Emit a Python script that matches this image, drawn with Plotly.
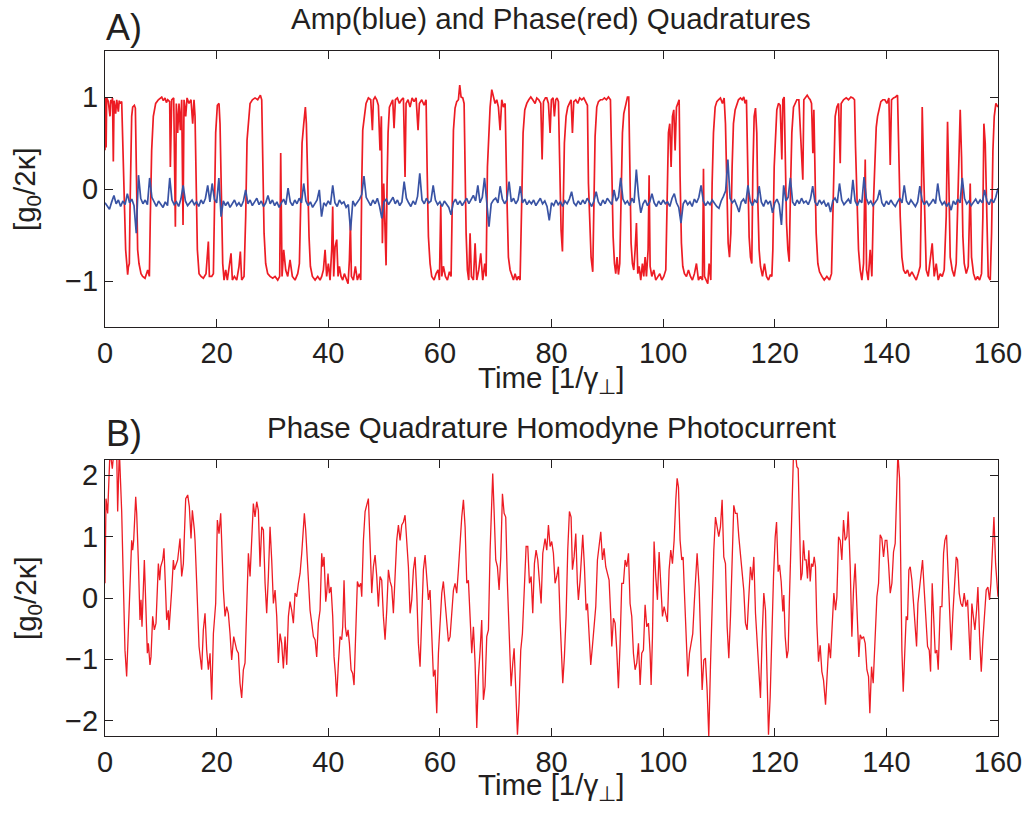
import plotly.graph_objects as go

# ---------------- Panel A: phase quadrature (red), (time, value) ----------------
phase_a1 = [(0.00,0.42),(0.12,1.00),(0.20,0.45),(0.30,0.99),(0.60,0.95),(0.90,0.79),(1.05,0.97),(1.19,0.93),(1.35,0.99),(1.49,0.30),(1.62,0.96),(1.91,0.82),(2.10,0.97),(2.39,0.84),(2.55,0.96),(2.69,0.93),(2.99,0.95),(3.29,0.40),(3.46,-0.12),(3.70,-0.66),(3.88,-0.81),(4.06,-0.93),(4.18,-0.85),(4.36,-0.81),(4.48,-0.23),(4.78,0.79),(4.96,0.89),(5.26,0.91),(5.44,0.88),(5.56,0.42),(5.73,-0.23),(5.85,-0.66),(6.09,-0.81),(6.45,-0.92),(6.75,-0.95),(7.17,-0.97),(7.65,-0.88),(7.95,-0.95),(8.12,-0.30),(8.36,0.42),(8.66,0.79),(9.08,0.93),(9.56,0.97),(10.16,1.00),(10.45,0.96),(10.75,0.99),(11.00,0.94),(11.23,0.97),(11.59,0.95),(11.71,0.24),(11.95,0.97),(12.31,0.99),(12.61,-0.41),(12.78,0.93),(13.02,0.61),(13.26,0.93),(13.50,0.64),(13.74,0.97),(13.98,-0.39),(14.16,0.97),(14.46,0.79),(14.70,0.99),(15.05,0.93),(15.41,0.97),(15.71,0.71),(15.95,0.97),(16.13,0.79),(16.31,0.06),(16.55,-0.66),(16.85,-0.92),(17.21,-0.95),(17.62,-0.97),(18.10,-0.92),(18.52,-0.57),(18.70,-0.95),(19.12,-0.95),(19.42,-0.92),(19.59,-0.30),(19.83,0.61),(20.13,0.91),(20.43,0.93),(20.61,0.71),(20.85,0.06),(21.09,-0.81),(21.33,-0.99),(21.63,-0.88),(21.92,-0.99),(22.22,-0.84),(22.58,-0.70),(22.82,-0.99),(23.18,-0.95),(23.60,-0.99),(24.01,-0.84),(24.25,-0.68),(24.49,-0.99),(24.91,-0.95),(25.21,-0.30),(25.45,0.53),(25.69,0.71),(25.99,0.93),(26.41,0.97),(26.88,0.99),(27.36,0.97),(27.84,1.02),(28.08,0.97),(28.26,0.42),(28.50,-0.48),(28.79,-0.81),(29.15,-0.92),(29.57,-0.95),(30.05,-0.97),(30.47,-0.95),(30.95,-0.99),(31.30,-0.95),(31.48,0.39),(31.72,-0.95),(32.02,-0.66),(32.38,-0.88),(32.74,-0.95),(33.15,-0.77),(33.57,-0.95),(34.05,-0.99),(34.53,-0.92),(34.83,-0.81),(35.07,-0.12),(35.31,0.50),(35.61,0.71),(35.90,0.89),(36.08,0.71),(36.32,0.06),(36.56,-0.52),(36.80,-0.84),(37.16,-0.95),(37.64,-0.99),(38.11,-0.95),(38.53,-0.99)]
phase_a2 = [(38.83,-0.95),(39.13,-0.88),(39.43,-0.66),(39.72,-0.95),(40.02,-0.81),(40.32,-0.99),(40.62,-0.66),(40.80,-0.19),(40.98,-0.95),(41.22,-0.63),(41.52,-0.55),(41.76,-0.95),(42.00,-0.84),(42.29,-0.95),(42.59,-0.99),(42.89,-0.92),(43.19,-0.97),(43.55,-1.03),(43.79,-0.77),(43.97,-0.37),(44.15,-0.95),(44.50,-0.99),(44.86,-0.84),(45.22,-0.99),(45.58,-0.92),(45.82,-0.99),(46.00,0.06),(46.18,0.64),(46.48,0.79),(46.77,0.93),(47.19,0.99),(47.61,0.97),(47.91,0.64),(48.09,0.97),(48.39,1.00),(48.69,0.97),(48.98,0.91),(49.28,0.42),(49.52,0.79),(49.70,-0.59),(49.94,0.06),(50.18,-0.52),(50.36,-0.83),(50.54,0.06),(50.72,0.61),(50.96,0.89),(51.25,0.93),(51.55,0.97),(51.79,0.66),(52.03,0.97),(52.39,0.99),(52.75,0.93),(53.11,0.97),(53.47,0.99),(53.76,0.13),(53.94,0.93),(54.30,0.97),(54.66,0.89),(55.02,0.99),(55.38,0.95),(55.74,0.99),(56.09,0.64),(56.33,0.93),(56.75,0.97),(57.17,0.91),(57.53,0.97),(57.71,0.24),(57.95,-0.52),(58.24,-0.81),(58.54,-0.95),(58.96,-0.99),(59.32,-0.92),(59.68,-0.88),(59.92,-0.99),(60.16,-0.17),(60.34,-0.95),(60.63,-0.84),(60.99,-0.95),(61.35,-0.99),(61.71,-0.90),(62.01,-0.95),(62.19,-0.12),(62.43,0.64),(62.72,0.88),(63.02,0.95),(63.32,0.97),(63.56,1.13),(63.80,1.00),(64.10,0.99),(64.34,0.93),(64.52,0.06),(64.70,-0.48),(64.93,-0.88),(65.17,-0.99),(65.41,-0.48),(65.65,-0.95),(66.01,-0.99),(66.31,-0.59),(66.61,-0.99),(66.97,-0.88),(67.32,-0.70),(67.68,-0.99),(68.04,-0.81),(68.28,-0.95),(68.52,0.24),(68.76,0.61),(69.00,0.89),(69.30,1.08),(69.60,1.00),(69.89,0.93),(70.19,0.97),(70.49,0.89),(70.79,0.64),(71.09,0.97),(71.39,0.89),(71.69,0.93),(71.98,-0.01),(72.28,-0.74),(72.58,-0.88),(72.88,-0.95),(73.18,-0.99),(73.48,-0.92),(73.78,-0.99),(74.07,-0.95),(74.37,-0.99),(74.67,-0.12),(74.91,0.61),(75.21,0.86),(75.57,0.93),(75.93,0.97),(76.29,1.00),(76.64,0.97),(77.06,0.93),(77.36,0.99),(77.72,0.97),(78.08,0.93),(78.32,0.32),(78.56,0.95),(78.91,0.99)]
phase_a3 = [(79.15,0.99),(79.45,0.93),(79.75,0.61),(79.98,0.97),(80.28,0.99),(80.52,0.79),(80.76,0.97),(81.00,0.99),(81.24,0.95),(81.48,0.06),(81.72,-0.45),(81.96,-0.68),(82.14,-0.12),(82.31,0.50),(82.61,0.79),(82.91,0.89),(83.21,0.93),(83.51,0.97),(83.75,0.61),(83.99,0.95),(84.35,0.97),(84.70,0.93),(85.06,0.99),(85.42,0.97),(85.78,0.99),(86.14,0.95),(86.44,0.91),(86.62,0.06),(86.86,-0.48),(87.09,-0.74),(87.39,-0.90),(87.63,-0.12),(87.81,0.57),(88.11,0.89),(88.41,0.95),(88.77,0.97),(89.13,0.97),(89.48,0.99),(89.84,0.97),(90.20,1.00),(90.56,0.97),(90.80,0.24),(91.04,-0.52),(91.28,-0.81),(91.51,-0.92),(91.75,-0.74),(91.99,-0.93),(92.23,-0.81),(92.47,-0.01),(92.71,0.61),(92.95,0.82),(93.31,0.93),(93.61,1.00),(93.84,1.00),(94.02,0.24),(94.26,-0.59),(94.50,-0.81),(94.74,-0.88),(94.98,-0.66),(95.22,-0.37),(95.46,-0.92),(95.70,-0.84),(95.99,-0.99),(96.29,-0.81),(96.53,-0.95),(96.77,-0.74),(97.01,-0.95),(97.31,-0.66),(97.49,0.15),(97.67,-0.84),(97.97,-0.95),(98.33,-0.88),(98.68,-0.99),(99.04,-0.95),(99.40,-0.92),(99.76,-0.99),(100.12,-0.95),(100.48,-0.88),(100.71,-0.12),(100.95,0.61),(101.19,0.71),(101.43,0.24),(101.67,0.79),(101.91,0.86),(102.15,0.42),(102.39,0.89),(102.63,0.93),(102.87,0.97),(103.04,0.13),(103.28,-0.59),(103.52,-0.84),(103.82,-0.92),(104.18,-0.95),(104.54,-0.88),(104.90,-0.95),(105.25,-0.99),(105.61,-0.92),(105.97,-0.81),(106.33,-0.99),(106.69,-0.95),(107.05,-0.99),(107.23,0.22),(107.41,-0.95),(107.76,-0.99),(108.00,-1.03),(108.24,-0.81),(108.54,-0.99),(108.78,0.06),(109.02,0.61),(109.32,0.89),(109.62,0.95),(109.92,0.97),(110.27,0.99),(110.63,0.93),(110.93,0.99),(111.17,0.71),(111.41,-0.12),(111.65,-0.59),(111.89,-0.74),(112.13,-0.48),(112.36,0.24),(112.60,0.71),(112.90,0.86),(113.20,0.93),(113.50,0.97),(113.86,0.99),(114.16,0.97),(114.45,1.00),(114.69,0.93),(114.93,0.97),(115.17,0.06),(115.41,-0.52),(115.65,-0.74),(115.89,-0.81),(116.07,0.17),(116.31,0.79),(116.55,0.88),(116.78,0.61),(116.96,-0.12),(117.20,-0.66),(117.44,-0.84),(117.80,-0.95),(118.16,-0.81),(118.52,-0.95),(118.88,-0.99),(119.23,-0.93)]
phase_a4 = [(119.48,-0.95),(119.66,-0.66),(119.90,0.24),(120.14,0.61),(120.37,0.86),(120.67,0.93),(120.97,0.91),(121.27,0.32),(121.45,0.97),(121.69,1.00),(121.87,0.24),(122.11,-0.37),(122.35,-0.66),(122.59,-0.79),(122.82,-0.01),(123.06,0.61),(123.36,0.89),(123.66,0.93),(123.96,0.97),(124.32,0.97),(124.68,0.57),(125.03,0.10),(125.21,0.97),(125.51,1.00),(125.81,1.02),(126.11,0.99),(126.35,0.97),(126.59,0.93),(126.83,0.39),(127.01,0.86),(127.19,0.06),(127.42,-0.48),(127.72,-0.81),(128.02,-0.90),(128.44,-0.95),(128.86,-0.99),(129.34,-0.95),(129.81,-0.99),(130.17,-0.92),(130.41,-0.30),(130.59,0.42),(130.83,0.79),(131.13,0.89),(131.43,0.93),(131.73,0.28),(131.90,0.93),(132.32,0.97),(132.80,0.99),(133.22,0.97),(133.64,1.00),(134.00,0.99),(134.29,0.97),(134.47,0.46),(134.71,-0.12),(135.01,-0.66),(135.31,-0.88),(135.61,-0.99),(135.91,-0.81),(136.21,0.32),(136.45,-0.88),(136.74,-0.99),(137.10,-0.66),(137.40,-0.95),(137.70,-0.12),(137.94,0.42),(138.18,0.67),(138.42,0.79),(138.71,0.89),(139.01,0.95),(139.37,0.97),(139.73,0.97),(140.09,0.93),(140.45,0.99),(140.69,0.26),(140.92,0.97),(141.28,0.99),(141.64,1.00),(142.00,1.02),(142.24,0.24),(142.48,-0.30),(142.78,-0.74),(143.08,-0.88),(143.43,-0.92),(143.79,-0.88),(144.15,-0.95),(144.57,-0.90),(144.99,-0.95),(145.35,-0.99),(145.70,-0.92),(146.06,-0.84),(146.30,0.06),(146.42,0.89),(146.66,0.24),(146.90,-0.52),(147.14,-0.88),(147.50,-0.95),(147.86,-0.74),(148.21,-0.59),(148.57,-0.95),(148.93,-0.81),(149.29,-0.99),(149.65,-0.92),(150.01,-0.95),(150.36,-0.88),(150.72,-0.30),(150.96,0.73),(151.20,0.06),(151.44,-0.74),(151.80,-0.88),(152.16,-0.95),(152.51,-0.81),(152.75,-0.30),(152.99,0.24),(153.23,0.86),(153.47,0.35),(153.71,-0.52),(153.95,-0.81),(154.31,-0.92),(154.67,-0.84),(155.02,0.06),(155.26,-0.74),(155.62,-0.92),(155.98,-0.99),(156.34,-0.95),(156.70,-0.99),(157.05,-0.92),(157.29,-0.30),(157.47,0.71),(157.71,0.50),(158.01,-0.48),(158.25,-0.95),(158.61,-0.99),(158.85,-0.48),(159.09,0.42),(159.33,0.79),(159.62,0.93),(160.00,0.89)]

# ---------------- Panel A: amplitude quadrature (blue), sampled every 0.4 ----------------
amp_step = 0.4
amp_values = [
    -0.15,-0.18,-0.22,-0.14,-0.07,-0.16,-0.12,-0.19,-0.13,-0.17,-0.05,-0.15,-0.11,-0.18,-0.48,0.15,-0.10,-0.16,-0.12,-0.17,
    0.12,-0.09,-0.15,-0.19,-0.13,-0.17,-0.20,-0.14,-0.18,0.12,-0.12,-0.17,-0.14,-0.19,-0.11,0.04,-0.13,-0.18,-0.15,-0.12,
    -0.17,-0.14,-0.19,-0.12,-0.16,-0.10,0.04,-0.14,0.06,-0.11,-0.15,0.12,-0.30,-0.13,-0.18,-0.14,-0.20,-0.16,-0.12,-0.18,
    -0.15,-0.19,-0.13,-0.01,-0.16,-0.12,-0.18,-0.14,-0.10,-0.17,-0.13,-0.19,-0.15,-0.07,-0.16,-0.12,-0.18,-0.14,-0.20,-0.15,
    -0.11,-0.17,0.01,-0.14,-0.18,-0.12,-0.16,-0.10,-0.15,0.06,-0.13,-0.18,-0.14,-0.20,-0.16,-0.12,-0.01,-0.30,-0.15,-0.18,
    -0.13,-0.17,0.04,-0.15,-0.19,-0.12,-0.16,-0.14,-0.20,-0.17,-0.45,-0.13,-0.18,-0.15,-0.11,-0.06,0.14,-0.09,-0.14,-0.18,
    -0.12,-0.16,-0.10,-0.19,-0.32,-0.14,-0.11,-0.17,-0.13,-0.09,-0.16,-0.12,-0.18,-0.14,0.08,-0.10,-0.15,-0.19,-0.13,-0.17,
    -0.08,0.17,-0.12,-0.16,-0.10,-0.15,-0.13,0.04,-0.12,-0.17,-0.14,-0.19,-0.13,-0.16,-0.20,-0.28,-0.15,-0.11,-0.17,-0.13,
    -0.18,-0.14,-0.10,-0.16,-0.12,-0.07,-0.13,0.04,-0.15,-0.09,0.12,-0.18,-0.41,-0.16,-0.12,-0.10,-0.15,0.03,-0.11,-0.16,
    -0.12,0.08,-0.14,-0.10,-0.16,-0.12,0.03,-0.15,-0.11,-0.17,-0.13,-0.16,-0.12,-0.18,-0.14,-0.10,-0.16,-0.13,-0.19,-0.34,
    -0.15,-0.18,-0.12,-0.17,-0.14,-0.19,-0.13,-0.16,-0.11,-0.03,-0.15,-0.18,-0.13,-0.17,-0.12,-0.16,-0.10,-0.15,-0.19,-0.13,
    -0.03,-0.14,-0.18,-0.12,-0.16,-0.10,-0.14,-0.17,-0.01,-0.13,-0.09,0.12,-0.11,-0.16,-0.13,-0.18,-0.10,-0.15,0.21,-0.08,
    -0.26,-0.16,-0.12,-0.18,-0.14,-0.05,-0.15,-0.19,-0.13,-0.17,-0.12,-0.16,-0.14,-0.19,-0.10,-0.05,-0.15,-0.20,-0.37,-0.16,
    -0.12,-0.17,-0.14,-0.19,-0.11,-0.15,-0.09,0.04,-0.13,-0.18,-0.14,-0.17,-0.12,-0.16,-0.19,-0.21,-0.13,-0.08,-0.02,0.32,
    -0.10,-0.15,-0.12,-0.18,-0.25,-0.14,-0.11,-0.16,0.04,-0.13,-0.18,-0.12,-0.15,0.03,-0.14,-0.19,-0.12,-0.16,-0.13,-0.26,
    -0.15,-0.11,-0.17,-0.39,0.04,-0.13,-0.09,0.12,-0.14,-0.18,-0.12,-0.16,-0.10,-0.15,-0.13,-0.17,-0.11,0.03,-0.14,-0.18,
    -0.12,-0.16,-0.13,-0.19,-0.15,-0.25,-0.13,-0.10,-0.15,0.06,-0.12,-0.17,-0.14,-0.11,-0.16,0.10,-0.13,-0.18,-0.12,-0.15,
    0.13,-0.10,-0.16,-0.13,-0.18,-0.14,-0.11,-0.01,-0.15,-0.19,-0.13,-0.17,-0.12,-0.16,-0.19,-0.14,-0.10,-0.15,0.04,-0.13,
    -0.17,-0.12,-0.16,-0.19,-0.14,0.03,-0.12,-0.17,-0.13,-0.18,-0.15,-0.11,-0.16,0.06,-0.12,-0.17,-0.14,-0.19,-0.15,-0.23,
    -0.13,-0.17,-0.11,-0.15,0.12,-0.10,-0.16,-0.13,-0.18,-0.14,-0.11,-0.16,-0.12,-0.15,-0.01,-0.13,-0.17,-0.11,-0.15,-0.09,
    0.01,
]

# ---------------- Panel B: homodyne photocurrent (red), (time, value) ----------------
photo_b1 = [(0.00,0.24),(0.18,1.62),(0.48,1.38),(0.72,2.08),(0.90,2.41),(1.31,2.11),(1.61,2.41),(2.09,2.41),(2.27,1.41),(2.57,2.41),(2.69,2.19),(2.99,1.41),(3.29,0.24),(3.58,-0.85),(3.88,-1.28),(4.18,-0.52),(4.48,0.24),(4.78,0.94),(4.96,0.78),(5.14,0.94),(5.50,1.65),(5.68,1.38),(5.97,0.62),(6.27,-0.36),(6.45,-0.03),(6.63,-0.47),(7.05,0.62),(7.29,-0.09),(7.59,-0.90),(7.77,-0.74),(8.06,-1.09),(8.24,-0.96),(8.54,-0.30),(8.84,-0.52),(9.14,-0.41),(9.56,0.56),(9.80,0.29),(9.98,0.51),(10.34,0.62),(10.57,0.81),(10.87,-0.14),(11.05,-0.36),(11.35,-0.20),(11.47,-0.52),(11.95,0.13),(12.25,0.62),(12.43,0.46),(12.72,0.56),(13.02,0.62),(13.44,0.97),(13.74,0.35),(14.04,0.56),(14.46,1.62),(14.82,1.68),(15.11,1.49),(15.41,0.97),(15.65,1.43),(16.01,1.11),(16.13,0.94),(16.43,0.24),(16.85,-0.79),(17.32,-1.17),(17.62,-0.52),(17.92,-0.25),(18.22,-0.85),(18.52,-1.17),(18.82,-0.90),(19.12,-1.66),(19.42,-0.58),(19.83,-0.09),(20.13,1.27),(20.43,1.05),(20.73,1.38),(21.21,0.13),(21.51,-0.30),(21.80,-0.14),(22.10,-0.25),(22.40,-0.58),(22.70,-1.01),(23.06,-0.63),(23.30,-0.71),(23.60,-0.85),(23.90,-0.90),(24.19,-1.39),(24.49,-1.63),(24.79,-1.17),(25.09,-1.06),(25.39,0.02),(25.69,0.73),(25.99,0.35),(26.29,0.97),(26.58,1.54),(26.88,1.32),(27.18,1.57),(27.48,1.43),(27.78,0.51),(28.08,1.16),(28.38,1.11),(28.68,0.24),(28.97,-0.25),(29.27,0.35),(29.57,1.16),(29.87,0.62),(30.17,-0.09),(30.47,0.13),(30.77,-0.30),(31.06,-1.06),(31.36,-0.58),(31.66,-0.74),(31.96,-1.15),(32.26,-0.63),(32.56,-1.09),(32.86,-0.30),(33.15,-0.06),(33.45,-0.20),(33.75,-0.41),(34.05,0.08),(34.35,0.02),(34.65,0.24),(34.95,0.40),(35.25,0.73),(35.54,1.05),(35.72,1.38),(35.96,1.11),(36.20,0.67),(36.44,0.13),(36.74,-0.20),(37.04,-0.41),(37.34,-0.63),(37.64,-0.68),(37.93,-0.96),(38.23,-0.41)]
photo_b2 = [(38.53,-0.20),(38.83,0.73),(39.01,0.51),(39.25,0.67),(39.55,-0.06),(39.72,0.08),(39.96,0.40),(40.20,0.08),(40.50,0.18),(40.80,-0.30),(41.04,-0.96),(41.28,-1.23),(41.52,-1.61),(41.82,-1.06),(42.11,-0.63),(42.41,-0.68),(42.59,-0.47),(42.83,0.29),(43.07,-0.47),(43.31,-0.63),(43.55,-0.52),(43.79,-0.74),(44.09,-1.17),(44.38,-1.23),(44.62,-1.42),(44.98,-0.41),(45.22,0.27),(45.52,0.18),(45.82,0.24),(46.00,0.02),(46.30,0.94),(46.60,1.41),(46.89,1.54),(47.19,1.62),(47.49,0.89),(47.79,0.08),(48.09,0.51),(48.39,0.70),(48.69,0.35),(48.98,-0.14),(49.28,0.35),(49.58,0.29),(49.88,-0.30),(50.18,-0.68),(50.48,-0.20),(50.78,0.46),(51.08,0.27),(51.37,0.18),(51.67,-0.25),(51.97,0.51),(52.27,0.94),(52.57,1.19),(52.87,0.94),(53.17,1.19),(53.47,1.24),(53.76,1.35),(54.06,0.86),(54.36,0.51),(54.66,-0.25),(54.96,-0.03),(55.26,0.46),(55.56,0.67),(55.86,0.08),(56.15,-0.74),(56.45,-1.12),(56.75,-0.30),(57.05,0.46),(57.35,0.70),(57.65,0.35),(57.95,-0.03),(58.24,0.13),(58.54,-0.63),(58.84,-1.28),(59.14,-1.17),(59.44,-1.88),(59.74,-0.90),(60.04,-0.30),(60.34,0.08),(60.63,0.27),(60.93,-0.03),(61.23,-0.41),(61.53,-0.71),(61.83,-0.63),(62.13,-0.30),(62.43,0.13),(62.72,0.24),(63.02,0.08),(63.32,0.46),(63.62,1.00),(63.92,1.32),(64.22,1.60),(64.52,1.16),(64.82,0.24),(65.11,0.29),(65.41,-0.30),(65.71,-0.90),(66.01,-0.47),(66.31,-1.06),(66.61,-2.12),(66.91,-1.28),(67.21,-0.85),(67.50,-0.36),(67.80,-1.66),(68.10,-1.44),(68.40,-0.63),(68.70,-0.52),(69.00,0.78),(69.30,1.76),(69.47,2.03),(69.71,1.43),(70.01,0.62),(70.31,0.51),(70.61,0.13),(70.91,0.67),(71.21,1.70),(71.51,1.38),(71.80,1.32),(72.10,0.24),(72.46,-0.63),(72.76,-1.44),(73.06,-1.06),(73.30,-0.82),(73.60,-1.50),(73.90,-2.23),(74.19,-1.72),(74.49,-0.85),(74.79,-0.58),(75.09,0.13),(75.45,0.84),(75.75,0.84),(76.05,0.24),(76.35,0.35),(76.64,-0.25),(76.94,0.56),(77.24,0.78),(77.54,0.62),(77.84,0.29),(78.14,-0.09),(78.44,0.73)]
photo_b3 = [(78.85,0.97),(79.15,0.78),(79.45,1.19),(79.75,0.84),(80.04,0.92),(80.34,0.73),(80.64,0.24),(80.94,0.35),(81.24,0.51),(81.54,-0.36),(81.84,-0.96),(82.02,-1.39),(82.31,-0.96),(82.61,-0.30),(82.91,0.78),(83.21,1.41),(83.51,1.32),(83.75,0.46),(84.05,0.67),(84.35,1.05),(84.64,0.24),(84.82,-0.03),(85.12,0.29),(85.42,0.78),(85.60,1.03),(85.90,0.51),(86.20,-0.20),(86.44,-0.09),(86.74,-0.68),(87.03,-1.09),(87.33,-0.79),(87.69,-0.30),(87.93,-0.14),(88.23,0.62),(88.53,0.81),(88.83,1.08),(89.13,0.62),(89.42,0.81),(89.72,0.51),(90.02,0.40),(90.32,0.29),(90.62,-0.30),(90.80,-0.79),(91.10,-0.33),(91.40,-0.41),(91.69,-0.85),(91.99,-1.47),(92.29,-0.74),(92.59,0.24),(92.89,0.24),(93.19,0.62),(93.49,0.51),(93.79,0.73),(94.08,-0.09),(94.38,-0.30),(94.68,-0.90),(94.98,-1.17),(95.28,-1.06),(95.58,-0.74),(95.88,-1.42),(96.17,-0.90),(96.47,-0.85),(96.77,-0.11),(97.07,-0.47),(97.37,-0.41),(97.67,-0.90),(97.85,-1.42),(98.09,-0.63),(98.38,0.92),(98.68,0.35),(98.98,-0.03),(99.28,0.75),(99.58,0.13),(99.88,-0.30),(100.18,-0.14),(100.48,-0.30),(100.77,-0.39),(101.07,0.46),(101.37,0.78),(101.67,0.56),(101.97,0.94),(102.27,1.60),(102.51,1.95),(102.75,1.81),(103.04,0.94),(103.34,0.62),(103.58,0.67),(103.82,0.08),(104.12,-0.63),(104.42,-1.28),(104.72,-0.90),(105.02,-0.74),(105.31,-0.58),(105.61,-0.03),(106.09,0.73),(106.45,0.18),(106.75,-0.63),(106.99,-1.50),(107.29,-1.01),(107.58,-0.98),(107.88,-1.50),(108.18,-2.26),(108.48,-1.12),(108.78,-0.03),(109.08,0.78),(109.38,1.32),(109.68,1.16),(109.97,1.00),(110.27,1.16),(110.57,1.60),(110.87,0.67),(111.17,0.56),(111.47,-0.47),(111.77,-0.98),(112.07,-0.30),(112.36,0.78),(112.66,1.51),(112.96,1.38),(113.26,1.38),(113.56,1.00),(113.86,0.73),(114.16,0.46),(114.45,0.13),(114.75,-0.41),(115.05,-0.52),(115.35,0.02),(115.65,0.51),(115.95,0.29),(116.25,0.67),(116.55,-0.25),(116.84,-0.74),(117.14,-1.28),(117.44,-1.63),(117.74,-0.63),(118.04,0.08),(118.34,-0.20),(118.64,-1.50),(118.88,-2.23)]
photo_b4 = [(119.18,-1.61),(119.48,-0.58),(119.78,0.35),(120.08,1.00),(120.32,1.24),(120.61,0.43),(120.85,0.54),(121.15,0.27),(121.45,-0.22),(121.63,0.05),(121.87,-0.63),(122.17,-0.98),(122.41,-0.85),(122.64,0.02),(122.88,0.78),(123.12,1.87),(123.36,2.36),(123.66,2.41),(123.96,2.14),(124.20,2.11),(124.44,1.05),(124.68,0.29),(124.91,0.40),(125.15,0.94),(125.39,0.62),(125.63,0.62),(125.87,0.32),(126.11,0.78),(126.35,0.27),(126.59,0.56),(126.83,0.51),(127.07,0.67),(127.30,0.51),(127.54,-0.41),(127.84,-1.04),(128.14,-0.77),(128.44,-1.20),(128.74,-1.34),(129.10,-1.74),(129.34,-1.39),(129.69,-0.74),(129.99,-0.98),(130.29,-0.41),(130.59,0.08),(130.89,-0.20),(131.13,0.02),(131.43,1.00),(131.73,0.94),(132.02,0.62),(132.32,1.27),(132.62,0.94),(132.92,1.00),(133.16,1.41),(133.52,0.51),(133.82,-0.63),(134.11,0.13),(134.41,0.56),(134.59,0.18),(134.83,-0.41),(135.07,-0.96),(135.31,-0.60),(135.61,-0.66),(135.91,-0.63),(136.21,-0.74),(136.51,-1.17),(136.80,-1.28),(137.04,-1.88),(137.34,-1.12),(137.64,-1.39),(138.00,-0.74),(138.30,0.02),(138.60,0.24),(138.89,1.03),(139.19,0.97),(139.49,0.67),(139.79,0.94),(140.09,0.94),(140.39,0.56),(140.69,0.08),(140.99,0.24),(141.28,0.75),(141.58,0.89),(141.88,2.08),(142.06,2.36),(142.36,1.95),(142.60,0.40),(142.78,-0.85),(143.02,-1.53),(143.32,-0.74),(143.55,-0.30),(143.79,-0.36),(144.03,0.46),(144.27,0.51),(144.57,0.29),(144.87,-0.09),(145.17,-0.47),(145.41,-0.79),(145.65,-0.09),(145.94,0.18),(146.18,0.40),(146.48,0.62),(146.78,0.13),(147.08,-0.30),(147.38,-0.79),(147.68,-0.85),(147.92,-1.20),(148.21,0.24),(148.51,-0.47),(148.75,-0.90),(149.05,-0.85),(149.29,-1.17),(149.65,-0.14),(149.95,-0.14),(150.25,0.73),(150.48,0.94),(150.78,1.03),(151.08,0.24),(151.38,-0.47),(151.62,-0.85),(151.92,-0.25),(152.22,0.13),(152.52,0.67),(152.76,0.62),(153.05,0.08),(153.35,-0.09),(153.65,-0.14),(153.95,0.08),(154.25,-0.14),(154.55,-0.03),(154.85,-0.63),(155.02,-1.01),(155.32,-0.09),(155.62,-0.30),(155.86,-0.52),(156.16,-0.20),(156.40,0.18),(156.70,-0.63),(157.00,-1.20),(157.29,-0.68),(157.59,-0.20),(157.89,0.13),(158.19,0.18),(158.49,-0.03),(158.73,0.24),(159.03,0.78),(159.27,1.32),(159.57,0.56),(160.00,0.02)]

x_ticks = [0, 20, 40, 60, 80, 100, 120, 140, 160]
ya_ticks = [-1, 0, 1]
yb_ticks = [-2, -1, 0, 1, 2]

title_a = "Amp(blue) and Phase(red) Quadratures"
title_b = "Phase Quadrature Homodyne Photocurrent"
x_title = "Time [1/γ<sub>⊥</sub>]"
y_title = "[g<sub>0</sub>/2κ]"

RED = "#ED1C24"
BLUE = "#3953A4"
FONT = "Liberation Sans, Arial, Helvetica, sans-serif"
INK = "#231F20"

phase_a = phase_a1 + phase_a2 + phase_a3 + phase_a4
photo_b = photo_b1 + photo_b2 + photo_b3 + photo_b4
amp_t = [i * amp_step for i in range(len(amp_values))]

fig = go.Figure()
fig.add_trace(go.Scatter(x=[p[0] for p in phase_a], y=[p[1] for p in phase_a], mode="lines",
                         line=dict(color=RED, width=1.7), xaxis="x", yaxis="y", showlegend=False))
fig.add_trace(go.Scatter(x=amp_t, y=amp_values, mode="lines",
                         line=dict(color=BLUE, width=1.7), xaxis="x", yaxis="y", showlegend=False))
fig.add_trace(go.Scatter(x=[p[0] for p in photo_b], y=[p[1] for p in photo_b], mode="lines",
                         line=dict(color=RED, width=1.3), xaxis="x2", yaxis="y2", showlegend=False))

W, H = 1028, 814
def px(x):
    return x / W
def py(y):
    return 1 - y / H

axis_common = dict(showline=True, mirror="ticks", linecolor=INK, linewidth=1.3,
                   ticks="inside", ticklen=8, tickwidth=1.2, tickcolor=INK,
                   showgrid=False, zeroline=False, automargin=False,
                   tickfont=dict(family=FONT, size=29, color=INK))

fig.update_layout(
    template="none",
    width=W, height=H, autosize=False,
    margin=dict(l=0, r=0, t=0, b=0, pad=0),
    paper_bgcolor="white", plot_bgcolor="white",
    xaxis=dict(domain=[px(105), px(998)], range=[0, 160], tickvals=x_ticks, anchor="y", **axis_common),
    yaxis=dict(domain=[py(327), py(51)], range=[-1.5, 1.5], tickvals=ya_ticks, anchor="x", **axis_common),
    xaxis2=dict(domain=[px(105), px(998)], range=[0, 160], tickvals=x_ticks, anchor="y2", **axis_common),
    yaxis2=dict(domain=[py(736), py(460)], range=[-2.25, 2.25], tickvals=yb_ticks, anchor="x2", **axis_common),
)

ann_font = dict(family=FONT, size=29.5, color=INK)
annotations = [
    dict(text="A)", x=px(104), y=py(27), xanchor="left", yanchor="middle", font=dict(family=FONT, size=36, color=INK)),
    dict(text=title_a, x=px(551), y=py(19), xanchor="center", yanchor="middle", font=ann_font),
    dict(text=x_title, x=px(551), y=py(379), xanchor="center", yanchor="middle", font=ann_font),
    dict(text=y_title, x=px(27), y=py(189), xanchor="center", yanchor="middle", textangle=-90, font=ann_font),
    dict(text="B)", x=px(104), y=py(433), xanchor="left", yanchor="middle", font=dict(family=FONT, size=36, color=INK)),
    dict(text=title_b, x=px(551), y=py(427), xanchor="center", yanchor="middle", font=ann_font),
    dict(text=x_title, x=px(551), y=py(786), xanchor="center", yanchor="middle", font=ann_font),
    dict(text=y_title, x=px(27), y=py(598), xanchor="center", yanchor="middle", textangle=-90, font=ann_font),
]
for a in annotations:
    a.update(xref="paper", yref="paper", showarrow=False)
fig.update_layout(annotations=annotations)

fig.write_html("out.html")
